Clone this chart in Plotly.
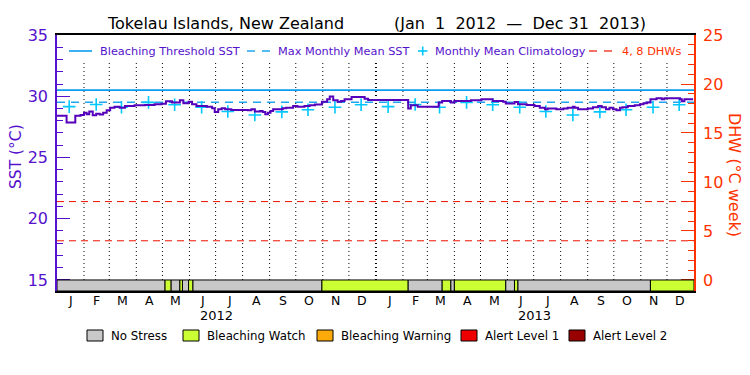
import plotly.graph_objects as go
import pandas as pd

# ---------------- data ----------------
sst_dates = ['2012-01-01','2012-01-12','2012-01-22','2012-01-28','2012-02-01','2012-02-04','2012-02-07',
             '2012-02-11','2012-02-15','2012-02-19','2012-02-23','2012-02-27','2012-03-02','2012-03-07',
             '2012-03-13','2012-03-19','2012-03-30','2012-04-11','2012-04-22','2012-04-30','2012-05-05',
             '2012-05-12','2012-05-21','2012-05-25','2012-05-31','2012-06-04','2012-06-09','2012-06-21',
             '2012-06-27','2012-06-30','2012-07-04','2012-07-08','2012-07-12','2012-07-19','2012-08-07',
             '2012-08-11','2012-08-15','2012-08-21','2012-08-24','2012-08-27','2012-08-30','2012-09-02',
             '2012-09-05','2012-09-16','2012-09-20','2012-09-28','2012-10-03','2012-10-11','2012-10-17',
             '2012-10-23','2012-10-31','2012-11-06','2012-11-09','2012-11-13','2012-11-18','2012-11-22',
             '2012-11-26','2012-12-04','2012-12-19','2012-12-23','2013-02-07','2013-02-10','2013-02-14',
             '2013-02-18','2013-02-22','2013-03-04','2013-03-14','2013-03-18','2013-03-28','2013-04-01',
             '2013-04-13','2013-04-20','2013-05-02','2013-05-15','2013-05-27','2013-05-30','2013-06-09',
             '2013-06-13','2013-06-23','2013-07-02','2013-07-08','2013-07-14','2013-07-17','2013-07-27',
             '2013-08-04','2013-08-09','2013-08-15','2013-08-17','2013-08-21','2013-09-01','2013-09-07',
             '2013-09-13','2013-09-17','2013-09-22','2013-09-26','2013-09-30','2013-10-04','2013-10-08',
             '2013-10-11','2013-10-17','2013-10-25','2013-10-31','2013-11-04','2013-11-08','2013-11-12',
             '2013-11-19','2013-11-25','2013-11-28','2013-12-16','2013-12-18','2013-12-21','2013-12-31']
sst_vals = [28.40,27.85,28.40,28.47,28.66,28.52,28.75,
            28.44,28.58,28.50,28.66,28.85,29.07,29.15,
            29.07,29.20,29.26,29.28,29.34,29.39,29.60,
            29.48,29.67,29.43,29.56,29.34,29.20,29.15,
            29.02,28.72,28.93,29.02,28.93,28.88,28.85,
            28.93,28.75,28.80,28.72,28.52,28.66,28.80,
            28.93,29.02,29.07,29.20,29.15,29.20,29.26,
            29.32,29.56,29.75,29.98,29.67,29.56,29.62,
            29.75,29.93,29.80,29.70,29.00,29.26,29.26,
            29.15,29.15,29.15,29.48,29.62,29.48,29.62,
            29.62,29.67,29.75,29.62,29.56,29.40,29.52,
            29.34,29.29,29.20,29.07,28.93,29.00,28.93,
            29.00,29.07,29.15,29.07,28.93,29.00,29.10,
            29.20,29.10,28.93,29.07,28.93,28.85,29.07,
            29.10,29.20,29.26,29.34,29.42,29.48,29.75,
            29.84,29.75,29.84,29.75,29.60,29.75,29.75]

clim_months = ['2012-01-15','2012-02-15','2012-03-15','2012-04-15','2012-05-15','2012-06-15',
               '2012-07-15','2012-08-15','2012-09-15','2012-10-15','2012-11-15','2012-12-15',
               '2013-01-15','2013-02-15','2013-03-15','2013-04-15','2013-05-15','2013-06-15',
               '2013-07-15','2013-08-15','2013-09-15','2013-10-15','2013-11-15','2013-12-15']
clim_vals = [29.15,29.32,29.10,29.50,29.30,29.10,28.76,28.47,28.72,28.90,29.10,29.30,
             29.15,29.32,29.10,29.50,29.30,29.10,28.76,28.47,28.72,28.90,29.10,29.30]

mmm_sst = 29.5
threshold_sst = 30.5
dhw_levels = [4, 8]
date_start, date_end = '2012-01-01', '2014-01-01'

stress_starts = ['2012-01-01','2012-05-04','2012-05-11','2012-05-21','2012-05-24','2012-05-31','2012-06-05',
                 '2012-10-31','2013-02-07','2013-03-18','2013-03-28','2013-04-01','2013-05-30','2013-06-09',
                 '2013-06-13','2013-11-12']
stress_levels = [0,1,0,1,0,1,0,1,0,1,0,1,0,1,0,1]

stress_names = ['No Stress','Bleaching Watch','Bleaching Warning','Alert Level 1','Alert Level 2']
stress_colors = ['#c8c8c8','#ccff33','#fbaa0a','#ee0000','#990000']

month_letters = ['J','F','M','A','M','J','J','A','S','O','N','D']
years = [2012, 2013]

# ---------------- styling ----------------
PURPLE = '#5511cc'
ORANGE = '#ff3300'
FONT = 'DejaVu Sans'
OFF = 8                      # page body margin of the html page
L, R, T, B = 57, 694, 35, 291  # plot area in page pixels
W, H = 750 - OFF, 375 - OFF

def px(x):
    return (x - L) / (R - L)

def py(y):
    return (B - y) / (B - T)

fig = go.Figure()

fig.add_trace(go.Scatter(x=[date_start, date_end], y=[threshold_sst, threshold_sst], mode='lines',
                         line=dict(color='#0a9cf0', width=1.6), showlegend=False, hoverinfo='skip'))
fig.add_trace(go.Scatter(x=[date_start, date_end], y=[mmm_sst, mmm_sst], mode='lines',
                         line=dict(color='#1fa5f0', width=1.5, dash='8px,6px'), showlegend=False, hoverinfo='skip'))
for lv in dhw_levels:
    fig.add_trace(go.Scatter(x=[date_start, date_end], y=[lv, lv], mode='lines', yaxis='y2',
                             line=dict(color='#ee1100', width=1, dash='7px,5px'), showlegend=False, hoverinfo='skip'))
fig.add_trace(go.Scatter(x=clim_months, y=clim_vals, mode='markers',
                         marker=dict(symbol='cross-thin', size=9, line=dict(color='#00c8ff', width=1.6)),
                         showlegend=False, hoverinfo='skip'))
fig.add_trace(go.Scatter(x=sst_dates, y=sst_vals, mode='lines', line=dict(color='#5500bb', width=2, shape='hv'),
                         showlegend=False))

shapes = []
for d in pd.date_range('2012-02-01', '2013-12-01', freq='MS'):
    is_year = (d.month == 1)
    shapes.append(dict(type='line', xref='x', yref='y', x0=d, x1=d, y0=15, y1=32.8, layer='below',
                       line=dict(color='black', width=2 if is_year else 1, dash='1px,3px')))
stress_ends = stress_starts[1:] + [date_end]
for s, e, lv in zip(stress_starts, stress_ends, stress_levels):
    shapes.append(dict(type='rect', xref='x', yref='y', x0=s, x1=e, y0=14.1, y1=15,
                       fillcolor=stress_colors[lv], line=dict(color='black', width=1), layer='above'))

annotations = []

def text(t, x, y, size, color, xanchor='left', angle=0, xref='paper'):
    annotations.append(dict(text=t, x=x, y=py(y), xref=xref, yref='paper', xanchor=xanchor, yanchor='middle',
                            textangle=angle, showarrow=False, font=dict(family=FONT, size=size, color=color)))

# title
text('Tokelau Islands, New Zealand', px(105), 23, 16, 'black')
text('(Jan\u00a0 1\u00a0 2012\u00a0 \u2014\u00a0 Dec 31\u00a0 2013)', px(392), 23, 16, 'black')

# top legend
LY = 51
shapes.append(dict(type='line', xref='paper', yref='paper', x0=px(69), x1=px(92), y0=py(LY), y1=py(LY),
                   line=dict(color='#0a9cf0', width=1.6)))
text('Bleaching Threshold SST', px(98), LY, 11.3, PURPLE)
for a, b in [(247, 255), (262, 270)]:
    shapes.append(dict(type='line', xref='paper', yref='paper', x0=px(a), x1=px(b), y0=py(LY), y1=py(LY),
                       line=dict(color='#1fa5f0', width=1.5)))
text('Max Monthly Mean SST', px(276), LY, 11.3, PURPLE)
shapes.append(dict(type='line', xref='paper', yref='paper', x0=px(418), x1=px(427.5), y0=py(LY), y1=py(LY),
                   line=dict(color='#00c8ff', width=1.6)))
shapes.append(dict(type='line', xref='paper', yref='paper', x0=px(422.7), x1=px(422.7), y0=py(LY - 4.5),
                   y1=py(LY + 4.5), line=dict(color='#00c8ff', width=1.6)))
text('Monthly Mean Climatology', px(433), LY, 11.3, PURPLE)
for a, b in [(589, 597), (604, 612)]:
    shapes.append(dict(type='line', xref='paper', yref='paper', x0=px(a), x1=px(b), y0=py(LY), y1=py(LY),
                       line=dict(color='#ee1100', width=1.2)))
text('4, 8 DHWs', px(620), LY, 11.3, ORANGE)

# month labels (mid-month) and year labels
mid_months = [pd.Timestamp(year=yr, month=m, day=1) + (pd.Timestamp(year=yr + (m // 12), month=(m % 12) + 1, day=1)
              - pd.Timestamp(year=yr, month=m, day=1)) / 2 for yr in years for m in range(1, 13)]
for d, lab in zip(mid_months, month_letters * len(years)):
    text(lab, d, 300, 12.5, 'black', xanchor='center', xref='x')
for yr in years:
    text(str(yr), f'{yr}-07-02', 315, 13, 'black', xanchor='center', xref='x')

# bottom legend
box_x = [87, 183, 317, 461, 569]
for bx, name, col in zip(box_x, stress_names, stress_colors):
    shapes.append(dict(type='rect', xref='paper', yref='paper', x0=px(bx), x1=px(bx + 16), y0=py(341), y1=py(330),
                       fillcolor=col, line=dict(color='black', width=1)))
    text(name, px(bx + 22), 335.5, 11.8, 'black')

# axis titles
text('SST (\u00b0C)', px(16), 157, 15.5, PURPLE, xanchor='center', angle=-90)
text('DHW (\u00b0C week)', px(735), 175, 16, ORANGE, xanchor='center', angle=90)

fig.update_layout(
    width=W, height=H,
    margin=dict(l=L - OFF, r=(OFF + W) - R, t=T - OFF, b=(OFF + H) - B, pad=0, autoexpand=False),
    paper_bgcolor='white', plot_bgcolor='white',
    showlegend=False,
    shapes=shapes, annotations=annotations,
    xaxis=dict(type='date', range=[date_start, date_end], showgrid=False, zeroline=False,
               showticklabels=False, ticks='',
               showline=True, linecolor='black', linewidth=1.5, mirror=True),
    yaxis=dict(range=[14.1, 35], tickmode='array', tickvals=[15, 20, 25, 30, 35], showgrid=False, zeroline=False,
               ticks='inside', ticklen=13, tickwidth=1.2, tickcolor=PURPLE,
               minor=dict(tickmode='array', tickvals=list(range(15, 36)), ticks='inside', ticklen=6,
                          tickwidth=1.2, tickcolor=PURPLE, showgrid=False),
               tickfont=dict(family=FONT, size=16, color=PURPLE), ticklabelstandoff=4,
               showline=True, linecolor=PURPLE, linewidth=1.6),
    yaxis2=dict(range=[-1.125, 25], overlaying='y', side='right', tickmode='array', tickvals=[0, 5, 10, 15, 20, 25],
                showgrid=False, zeroline=False, ticks='inside', ticklen=13, tickwidth=1.2, tickcolor=ORANGE,
                minor=dict(tickmode='array', tickvals=list(range(0, 26)), ticks='inside', ticklen=6,
                           tickwidth=1.2, tickcolor=ORANGE, showgrid=False),
                tickfont=dict(family=FONT, size=16, color=ORANGE), ticklabelstandoff=4,
                showline=True, linecolor=ORANGE, linewidth=1.6),
)

fig.write_html('out.html')
